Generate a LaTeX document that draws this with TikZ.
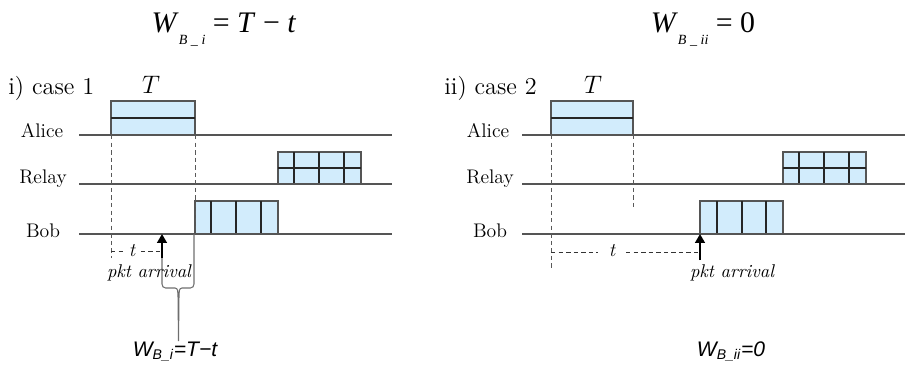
\documentclass[tikz,border=0pt]{standalone}
\usepackage{fontspec}
\newfontfamily\arialfont{Liberation Sans}
\newfontfamily\timesfont{Liberation Serif}
\usetikzlibrary{arrows.meta}
\definecolor{pktfill}{RGB}{210,236,252}
\definecolor{linegray}{RGB}{85,85,85}
\definecolor{bracegray}{RGB}{110,110,110}
\newcommand{\titlesub}[1]{\raisebox{-0.42em}{\fontsize{8}{8}\selectfont\itshape #1}}
\begin{document}
\begin{tikzpicture}[x=0.02cm,y=-0.02cm,
  timeline/.style={draw=linegray, line width=0.7pt},
  pkt/.style={draw=linegray, fill=pktfill, line width=0.6pt},
  divider/.style={draw=black!85, line width=1.1pt},
  vdash/.style={draw=black!65, line width=0.5pt, dash pattern=on 2.5pt off 1.8pt},
  hdash/.style={draw=black!80, line width=0.5pt, dash pattern=on 2.5pt off 1.8pt},
  lab/.style={anchor=base, inner sep=0pt, font=\fontsize{11.2}{13}\selectfont},
  casetxt/.style={anchor=base west, inner sep=0pt, font=\fontsize{13.8}{16}\selectfont},
  ttxt/.style={anchor=base, inner sep=0pt, font=\fontsize{14}{16}\selectfont},
  title/.style={anchor=base, inner sep=0pt, font=\timesfont\fontsize{17}{20}\selectfont},
  arr/.style={draw=black, line width=1pt, -{Triangle[length=5pt,width=5.5pt]}},
  bracestyle/.style={draw=bracegray, line width=0.6pt},
  wlab/.style={anchor=base, inner sep=0pt, font=\arialfont\itshape\fontsize{12}{14}\selectfont},
  pktlab/.style={anchor=base, inner sep=0pt, font=\fontsize{10.5}{12}\selectfont\itshape},
  tlab/.style={anchor=base, inner sep=0pt, font=\fontsize{11}{13}\selectfont\itshape}
]
\useasboundingbox (0,0) rectangle (905,365);

% ---------------- Left panel ----------------
\node[title] (titleL) at (224,32) {\textit{W}\titlesub{B \_ i} = \textit{T} − \textit{t}};
\node[casetxt] (caseL) at (8,94) {i) case 1};
\node[ttxt] (TL) at (151,93) {$T$};

\node[lab] (aliceL) at (42,137) {Alice};
\node[lab] (relayL) at (43,183) {Relay};
\node[lab] (bobL) at (43,237) {Bob};

\coordinate (aL0) at (79,135); \coordinate (aL1) at (392,135);
\coordinate (rL0) at (79,184); \coordinate (rL1) at (392,184);
\coordinate (bL0) at (79,234); \coordinate (bL1) at (392,234);

% Alice packet
\path[pkt] (111,101) rectangle (195,135);
\draw[divider] (111,118) -- (195,118);
% Relay packet
\path[pkt] (278,152) rectangle (361,184);
\draw[divider] (278,168) -- (361,168);
\foreach \x in {294,319,344} \draw[divider] (\x,152) -- (\x,184);
% Bob packet
\path[pkt] (195,201) rectangle (278,234);
\foreach \x in {211,236,261} \draw[divider] (\x,201) -- (\x,234);

\draw[timeline] (aL0) -- (aL1);
\draw[timeline] (rL0) -- (rL1);
\draw[timeline] (bL0) -- (bL1);

% dashed verticals
\coordinate (dL1a) at (111,135); \coordinate (dL1b) at (111,258);
\coordinate (dL2a) at (195,135); \coordinate (dL2b) at (195,234);
\draw[vdash] (dL1a) -- (dL1b);
\draw[vdash] (dL2a) -- (dL2b);

% t measure
\node[tlab] (tL) at (132,256) {t};
\coordinate (tLs) at (111,251); \coordinate (tLe) at (162,251);
\draw[hdash] (tLs) -- ([xshift=-3pt]tL.west |- tLs);
\draw[hdash] ([xshift=3pt]tL.east |- tLs) -- (tLe);

% brace
\coordinate (brL) at (162,256); \coordinate (brR) at (194,234); \coordinate (brTip) at (178.5,341);
\draw[bracestyle] (brL) -- (162,284) to[out=-90,in=180] (165.5,288) -- (175,288)
  to[out=0,in=90] (178,295) -- (brTip) -- (179,295) to[out=90,in=180] (182,288)
  -- (190.5,288) to[out=0,in=-90] (194,284) -- (brR);

% arrow
\coordinate (arLs) at (162,258); \coordinate (arLe) at (162,234);
\draw[arr] (arLs) -- (arLe);
\node[pktlab] (pktL) at (149,277) {pkt arrival};

\node[wlab] (wL) at (175,356) {W\textsubscript{B\_i}=T−t};

% ---------------- Right panel ----------------
\node[title] (titleR) at (703,32) {\textit{W}\titlesub{B \_ ii} = 0};
\node[casetxt] (caseR) at (444,94) {ii) case 2};
\node[ttxt] (TR) at (593,93) {$T$};

\node[lab] (aliceR) at (488,137) {Alice};
\node[lab] (relayR) at (490,183) {Relay};
\node[lab] (bobR) at (490,237) {Bob};

\coordinate (aR0) at (522,135); \coordinate (aR1) at (905,135);
\coordinate (rR0) at (522,184); \coordinate (rR1) at (905,184);
\coordinate (bR0) at (522,234); \coordinate (bR1) at (905,234);

\path[pkt] (551,101) rectangle (633,135);
\draw[divider] (551,118) -- (633,118);
\path[pkt] (783,152) rectangle (866,184);
\draw[divider] (783,168) -- (866,168);
\foreach \x in {799,824,849} \draw[divider] (\x,152) -- (\x,184);
\path[pkt] (700,201) rectangle (783,234);
\foreach \x in {717,742,766} \draw[divider] (\x,201) -- (\x,234);

\draw[timeline] (aR0) -- (aR1);
\draw[timeline] (rR0) -- (rR1);
\draw[timeline] (bR0) -- (bR1);

\coordinate (dR1a) at (551,135); \coordinate (dR1b) at (551,268);
\coordinate (dR2a) at (633,135); \coordinate (dR2b) at (633,210);
\draw[vdash] (dR1a) -- (dR1b);
\draw[vdash] (dR2a) -- (dR2b);

\node[tlab] (tR) at (612,256) {t};
\coordinate (tRs) at (551,252); \coordinate (tRe) at (700,252);
\draw[hdash] (tRs) -- ([xshift=-6pt]tR.west |- tRs);
\draw[hdash] ([xshift=6pt]tR.east |- tRs) -- (tRe);

\coordinate (arRs) at (700,260); \coordinate (arRe) at (700,234);
\draw[arr] (arRs) -- (arRe);
\node[pktlab] (pktR) at (732,277) {pkt arrival};

\node[wlab] (wR) at (731,356) {W\textsubscript{B\_ii}=0};
\end{tikzpicture}
\end{document}
